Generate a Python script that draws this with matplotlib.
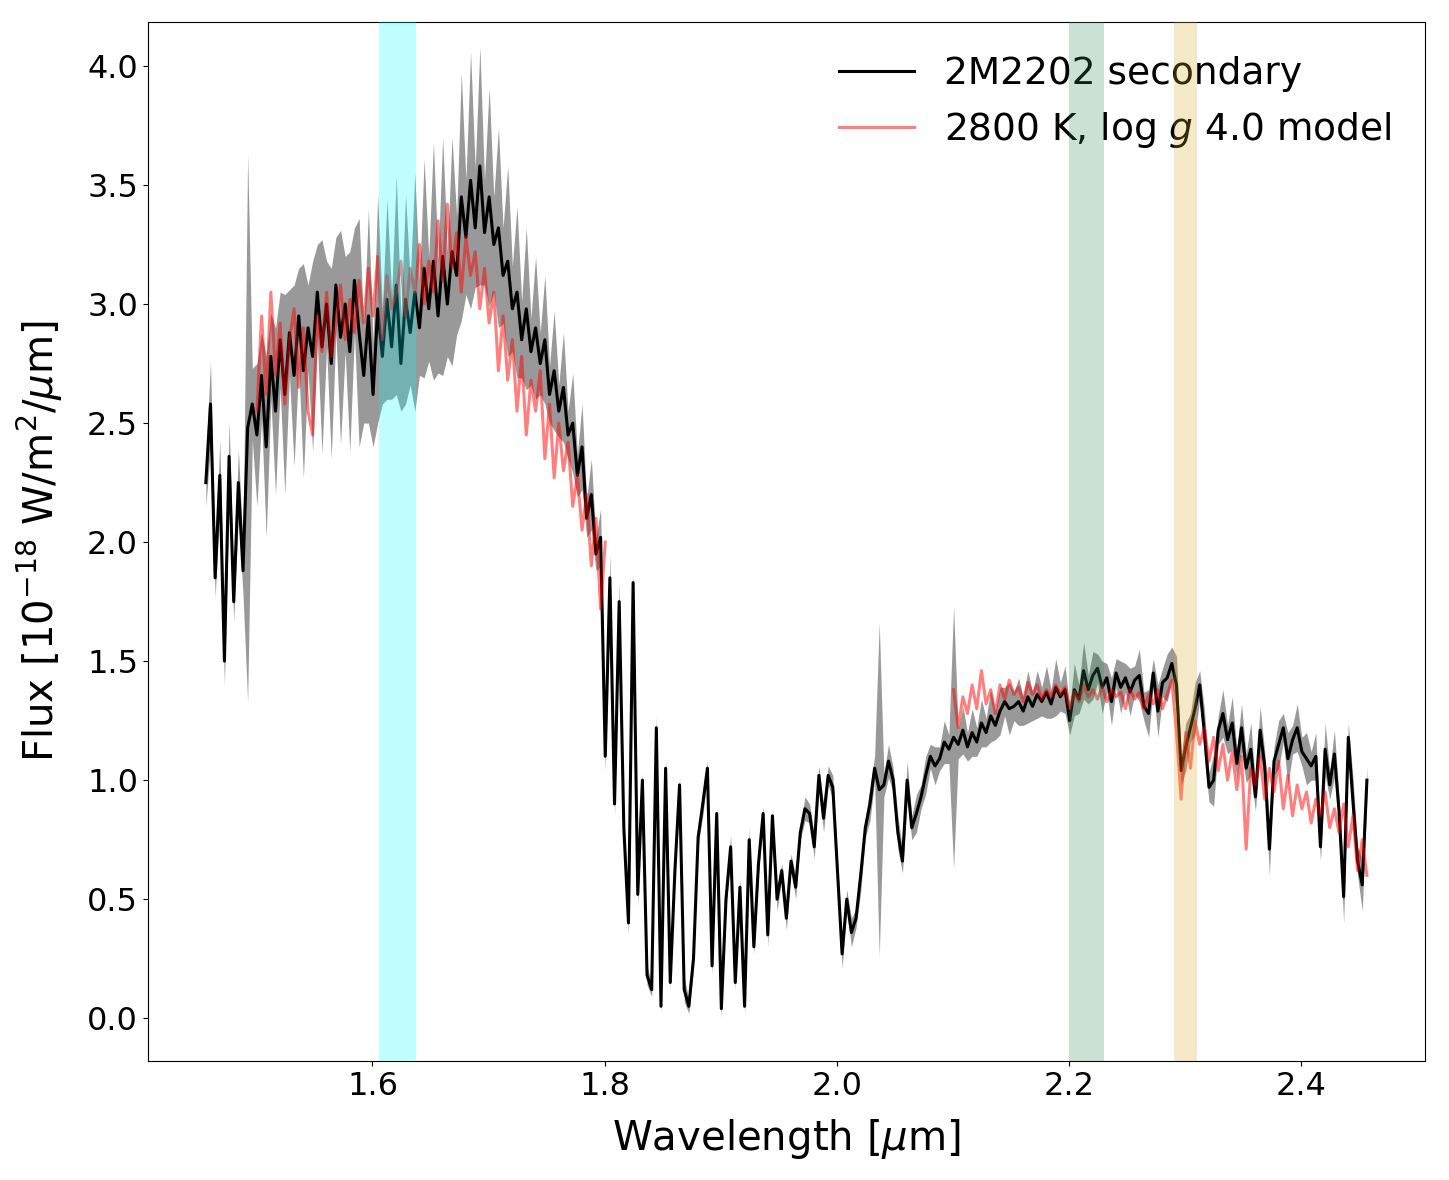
import numpy as np
import matplotlib.pyplot as plt

# Wavelength grid of the extracted spectrum (um), 0.004 um step
wave = np.linspace(1.4565, 2.4565, 251)

# Observed flux of the secondary, 1e-18 W/m2/um
flux = [
    2.25, 2.58, 1.85, 2.28, 1.50, 2.36, 1.75, 2.25, 1.88, 2.48,
    2.58, 2.45, 2.70, 2.40, 2.78, 2.55, 2.85, 2.62, 2.88, 2.70,
    2.95, 2.72, 2.90, 2.78, 3.05, 2.82, 3.00, 2.75, 3.08, 2.86,
    3.00, 2.80, 3.10, 2.88, 2.70, 2.95, 2.62, 2.98, 2.78, 3.02,
    2.82, 3.08, 2.75, 3.02, 2.88, 3.05, 2.90, 3.15, 2.98, 3.18,
    2.95, 3.20, 3.00, 3.22, 3.12, 3.45, 3.28, 3.52, 3.32, 3.58,
    3.30, 3.45, 3.25, 3.32, 3.12, 3.18, 2.98, 3.05, 2.85, 2.98,
    2.80, 2.90, 2.75, 2.85, 2.62, 2.72, 2.55, 2.65, 2.45, 2.50,
    2.28, 2.40, 2.10, 2.20, 1.95, 2.02, 1.10, 1.85, 0.90, 1.75,
    0.80, 0.40, 1.83, 0.52, 1.00, 0.18, 0.12, 1.22, 0.05, 1.05,
    0.15, 0.62, 0.98, 0.12, 0.05, 0.25, 0.76, 0.90, 1.05, 0.22,
    0.86, 0.04, 0.50, 0.72, 0.15, 0.55, 0.05, 0.75, 0.30, 0.65,
    0.86, 0.35, 0.85, 0.50, 0.62, 0.42, 0.66, 0.55, 0.78, 0.88,
    0.86, 0.72, 1.02, 0.84, 1.02, 0.97, 0.62, 0.27, 0.50, 0.36,
    0.42, 0.60, 0.80, 0.90, 1.05, 0.96, 0.98, 1.08, 1.00, 0.78,
    0.66, 1.00, 0.80, 0.86, 0.93, 1.02, 1.10, 1.06, 1.09, 1.16,
    1.13, 1.18, 1.15, 1.21, 1.14, 1.20, 1.16, 1.24, 1.20, 1.27,
    1.23, 1.29, 1.33, 1.30, 1.31, 1.33, 1.29, 1.35, 1.31, 1.36,
    1.33, 1.37, 1.32, 1.39, 1.35, 1.38, 1.25, 1.38, 1.34, 1.46,
    1.38, 1.44, 1.47, 1.39, 1.43, 1.33, 1.45, 1.39, 1.43, 1.37,
    1.42, 1.44, 1.31, 1.28, 1.45, 1.29, 1.41, 1.43, 1.49, 1.40,
    1.04, 1.14, 1.22, 1.30, 1.40, 1.20, 0.97, 1.00, 1.21, 1.28,
    1.17, 1.24, 1.07, 1.22, 1.05, 1.13, 0.93, 1.21, 1.06, 0.71,
    1.08, 1.15, 1.22, 1.09, 1.17, 1.22, 1.12, 1.09, 1.06, 1.10,
    0.72, 1.13, 0.98, 1.11, 0.87, 0.51, 1.18, 0.91, 0.66, 0.56,
    1.00,
]

# 1-sigma uncertainty on the observed flux
flux_err = [
    0.10, 0.18, 0.08, 0.15, 0.10, 0.15, 0.08, 0.14, 0.10, 1.15,
    0.15, 0.30, 0.18, 0.38, 0.18, 0.35, 0.20, 0.42, 0.18, 0.38,
    0.20, 0.45, 0.18, 0.40, 0.20, 0.45, 0.18, 0.40, 0.20, 0.45,
    0.20, 0.42, 0.22, 0.48, 0.20, 0.45, 0.22, 0.48, 0.20, 0.42,
    0.22, 0.46, 0.20, 0.44, 0.22, 0.50, 0.20, 0.46, 0.22, 0.50,
    0.24, 0.50, 0.22, 0.48, 0.25, 0.52, 0.24, 0.54, 0.25, 0.50,
    0.22, 0.46, 0.20, 0.42, 0.20, 0.40, 0.18, 0.36, 0.16, 0.34,
    0.14, 0.30, 0.13, 0.27, 0.12, 0.25, 0.11, 0.23, 0.10, 0.21,
    0.09, 0.18, 0.08, 0.15, 0.07, 0.12, 0.06, 0.10, 0.05, 0.08,
    0.04, 0.05, 0.03, 0.05, 0.03, 0.04, 0.03, 0.05, 0.03, 0.04,
    0.03, 0.04, 0.03, 0.05, 0.03, 0.04, 0.03, 0.05, 0.03, 0.04,
    0.03, 0.04, 0.03, 0.05, 0.03, 0.04, 0.03, 0.05, 0.03, 0.04,
    0.03, 0.05, 0.03, 0.05, 0.03, 0.05, 0.03, 0.05, 0.03, 0.05,
    0.04, 0.05, 0.04, 0.06, 0.04, 0.05, 0.04, 0.06, 0.04, 0.06,
    0.04, 0.07, 0.04, 0.07, 0.05, 0.70, 0.05, 0.07, 0.05, 0.07,
    0.05, 0.08, 0.05, 0.08, 0.05, 0.08, 0.05, 0.08, 0.05, 0.09,
    0.06, 0.55, 0.06, 0.10, 0.06, 0.10, 0.06, 0.10, 0.06, 0.11,
    0.06, 0.10, 0.06, 0.11, 0.06, 0.10, 0.06, 0.11, 0.06, 0.10,
    0.06, 0.11, 0.06, 0.12, 0.06, 0.10, 0.06, 0.11, 0.06, 0.12,
    0.06, 0.10, 0.06, 0.11, 0.06, 0.10, 0.06, 0.11, 0.06, 0.10,
    0.06, 0.11, 0.06, 0.10, 0.06, 0.11, 0.06, 0.10, 0.07, 0.12,
    0.06, 0.10, 0.06, 0.11, 0.06, 0.10, 0.06, 0.11, 0.06, 0.10,
    0.06, 0.11, 0.06, 0.10, 0.06, 0.11, 0.06, 0.10, 0.06, 0.11,
    0.06, 0.10, 0.06, 0.11, 0.06, 0.10, 0.06, 0.11, 0.06, 0.10,
    0.06, 0.11, 0.06, 0.10, 0.06, 0.11, 0.06, 0.10, 0.06, 0.11,
    0.06,
]

# Model spectrum, H band part (1.50 - 1.80 um) and K band part (2.10 - 2.46 um)
h_start, h_end = 11, 87
k_start = 161
model_h = [
    2.55, 2.95, 2.62, 3.05, 2.70, 2.92, 2.58, 2.85, 2.98,
    2.65, 2.90, 2.55, 2.45, 2.95, 2.80, 3.05, 2.78, 2.92, 3.08,
    2.85, 3.02, 2.88, 3.10, 2.92, 3.15, 2.95, 3.20, 2.85, 3.12,
    2.98, 3.05, 3.18, 2.95, 3.15, 3.05, 3.25, 3.00, 3.18, 3.05,
    3.35, 3.10, 3.42, 3.15, 3.30, 3.05, 3.28, 3.12, 3.22, 2.98,
    3.15, 2.92, 3.05, 2.72, 2.95, 2.68, 2.85, 2.55, 2.78, 2.45,
    2.68, 2.55, 2.72, 2.35, 2.58, 2.27, 2.50, 2.30, 2.42, 2.15,
    2.28, 2.05, 2.20, 1.90, 2.10, 1.72, 2.00,
]
model_k = [
    1.38, 1.22, 1.35, 1.28, 1.40, 1.30, 1.46, 1.32, 1.38,
    1.28, 1.40, 1.34, 1.42, 1.36, 1.39, 1.33, 1.41, 1.36, 1.40,
    1.34, 1.38, 1.35, 1.40, 1.36, 1.39, 1.30, 1.37, 1.33, 1.40,
    1.35, 1.38, 1.34, 1.39, 1.33, 1.38, 1.35, 1.37, 1.30, 1.38,
    1.34, 1.37, 1.30, 1.36, 1.32, 1.38, 1.30, 1.36, 1.42, 1.20,
    0.92, 1.20, 1.05, 1.25, 1.15, 1.22, 1.08, 1.18, 1.04, 1.15,
    1.00, 1.12, 0.96, 1.10, 0.71, 1.05, 0.98, 1.10, 0.92, 1.05,
    0.95, 1.08, 0.88, 1.02, 0.85, 0.98, 0.88, 0.95, 0.82, 0.92,
    0.85, 0.95, 0.80, 0.88, 0.78, 0.90, 0.72, 0.85, 0.62, 0.75,
    0.60,
]

# Highlighted wavelength windows (um)
bands = [(1.6055, 1.6372), (2.200, 2.230), (2.290, 2.310)]
band_colors = ['cyan', 'seagreen', 'goldenrod']

flux = np.array(flux)
flux_err = np.array(flux_err)

fig = plt.figure(figsize=(14.49, 11.8), dpi=100)
ax = fig.add_axes([0.102, 0.1008, 0.8814, 0.8806])

ax.fill_between(wave, flux - flux_err, flux + flux_err, color='k', alpha=0.4, lw=0)
ax.plot(wave, flux, color='k', lw=2.2, label='2M2202 secondary')
ax.plot(wave[h_start:h_end], model_h, color='red', alpha=0.5, lw=2.2,
        label='2800 K, log $g$ 4.0 model')
ax.plot(wave[k_start:], model_k, color='red', alpha=0.5, lw=2.2)

for (lo, hi), c in zip(bands, band_colors):
    ax.axvspan(lo, hi, color=c, alpha=0.25, lw=0, zorder=6)

ax.set_xlim(1.4065, 2.5065)
ax.set_ylim(-0.18, 4.185)
ax.set_xticks([1.6, 1.8, 2.0, 2.2, 2.4])
ax.set_yticks(np.arange(0, 4.01, 0.5))
ax.tick_params(labelsize=23)

ax.set_xlabel(r'Wavelength [$\mu$m]', fontsize=29, labelpad=11)
ax.set_ylabel(r'Flux [10$^{-18}$ W/m$^2$/$\mu$m]', fontsize=29, labelpad=16)
ax.legend(loc='upper right', fontsize=27, frameon=False)

fig.savefig('out.png', dpi=100)
